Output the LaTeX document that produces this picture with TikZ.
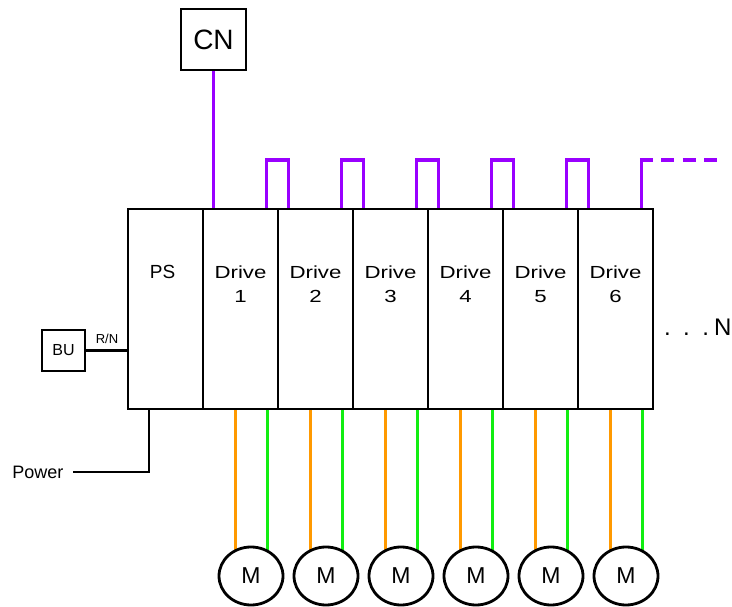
\documentclass[tikz,border=0pt]{standalone}
\usepackage{fontspec}
\setmainfont{Liberation Sans}
\newfontfamily\widefont[FakeStretch=1.27]{Liberation Sans}
\usetikzlibrary{shapes.geometric,calc,backgrounds}
\definecolor{buscol}{HTML}{9900FF}
\definecolor{orangecol}{HTML}{FF9900}
\definecolor{greencol}{HTML}{11EE11}
\begin{document}
\begin{tikzpicture}[x=1pt,y=-1pt,
  box/.style={draw,line width=2.8pt,inner sep=0pt,outer sep=0pt,minimum width=75pt,minimum height=200pt},
  smallbox/.style={draw,line width=2.8pt,inner sep=0pt,outer sep=0pt},
  motor/.style={ellipse,draw,line width=2.8pt,inner sep=0pt,outer sep=0pt,minimum width=64pt,minimum height=58pt,font=\fontsize{23}{23}\selectfont},
  busline/.style={draw=buscol,line width=3.2pt},
  phaseA/.style={draw=orangecol,line width=2.7pt},
  phaseB/.style={draw=greencol,line width=2.7pt},
  wire/.style={draw,line width=2.8pt},
  lbl/.style={inner sep=0pt,outer sep=0pt,anchor=base},
  drivelbl/.style={lbl,font=\widefont\fontsize{17.5}{17.5}\selectfont},
]
\useasboundingbox (0,0) rectangle (732,607);
\coordinate (top) at (0,160);
\coordinate (busend) at (717,160);

% power supply and drives
\node[box] (ps) at (165.5,309) {};
\node[lbl,font=\fontsize{19}{19}\selectfont] (pst) at (162.5,278.5) {PS};
\foreach \i in {1,...,6} {
  \node[box] (d\i) at ({240.5+75*(\i-1)},309) {};
  \node[drivelbl] (dt\i) at ({240.5+75*(\i-1)},279) {Drive};
  \node[drivelbl] (dn\i) at ({240.5+75*(\i-1)},302) {\i};
  \node[motor] (m\i) at ({251+75*(\i-1)},576) {M};
}

% communication node
\node[smallbox,minimum width=65pt,minimum height=61pt,font=\fontsize{28}{28}\selectfont] (cn) at (213.5,39.5) {CN};

% braking unit
\node[smallbox,minimum width=43pt,minimum height=41pt,font=\fontsize{16}{16}\selectfont] (bu) at (63.5,350.5) {BU};
\node[lbl,font=\fontsize{13}{13}\selectfont] (rn) at (107,343.5) {R/N};

% power label
\node[anchor=east,inner sep=0pt,outer sep=0pt,font=\fontsize{18}{18}\selectfont,text height=13pt,text depth=0pt] (power) at (63.5,472) {Power};

% continuation
\node[lbl,anchor=base west,font=\fontsize{24}{24}\selectfont] (more) at (664,335) {.\hspace{12.5pt}.\hspace{12.5pt}.\hspace{5pt}N};

\begin{scope}[on background layer]
  \draw[busline] (cn.south) -- (cn.south |- d1.north);
  \foreach \i/\j in {1/2,2/3,3/4,4/5,5/6} {
    \draw[busline] ($(d\i.north east)+(-11.5,0)$) -- ($(d\i.north east |- top)+(-11.5,0)$) -- ($(d\j.north west |- top)+(10.5,0)$) -- ($(d\j.north west)+(10.5,0)$);
  }
  \coordinate (o6) at ($(d6.north east)+(-11.5,0)$);
  \draw[busline] (o6) -- (o6 |- top);
  \draw[busline,dash pattern=on 13pt off 8.5pt] ($(o6 |- top)+(-1.6,0)$) -- (busend);
  \foreach \i in {1,...,6} {
    \draw[phaseA] (m\i.122.5 |- d\i.south) -- (m\i.122.5);
    \draw[phaseB] (m\i.57.5 |- d\i.south) -- (m\i.57.5);
  }
  \draw[wire] (bu.east) -- (bu.east -| ps.west);
  \draw[wire] ($(ps.south)+(-16.5,0)$) |- ([xshift=9.5pt]power.east);
\end{scope}
\end{tikzpicture}
\end{document}
